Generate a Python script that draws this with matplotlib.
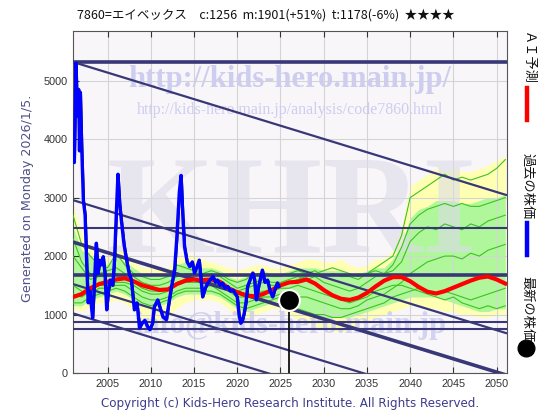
import matplotlib
matplotlib.use("Agg")
import matplotlib.pyplot as plt
from matplotlib.lines import Line2D
import numpy as np

# ---------------- data ----------------
title_text = "7860=エイベックス　c:1256  m:1901(+51%)  t:1178(-6%)  ★★★★"
x_ticks = [2005, 2010, 2015, 2020, 2025, 2030, 2035, 2040, 2045, 2050]
y_ticks = [0, 1000, 2000, 3000, 4000, 5000]

years = list(range(2001, 2052))

ai_pred = [1300, 1350, 1450, 1520, 1560, 1600, 1620, 1570, 1500, 1460, 1420, 1430, 1520, 1580, 1600, 1590,
           1600, 1560, 1450, 1380, 1330, 1310, 1350, 1420, 1500, 1550, 1560, 1600, 1530, 1420, 1330, 1270,
           1250, 1290, 1370, 1480, 1580, 1640, 1640, 1570, 1470, 1390, 1360, 1400, 1460, 1520, 1580, 1630,
           1650, 1600, 1530]

yellow_hi = [2900, 2400, 2200, 2000, 2000, 2200, 2100, 1900, 1800, 1800, 1800, 1800, 2000, 2050, 2000, 1950,
             1900, 1850, 1800, 1750, 1800, 1850, 1850, 1800, 1800, 1850, 1900, 1950, 1950, 1900, 1900, 1950,
             1850, 1800, 1850, 1950, 1950, 2100, 2500, 3200, 3300, 3400, 3500, 3450, 3500, 3450, 3450, 3500,
             3550, 3650, 3700]
green_hi = [2500, 2100, 2000, 1900, 1850, 2000, 1900, 1800, 1700, 1650, 1650, 1650, 1850, 1900, 1850, 1800,
            1800, 1750, 1650, 1600, 1650, 1700, 1750, 1700, 1700, 1750, 1800, 1800, 1800, 1750, 1750, 1750,
            1700, 1700, 1750, 1800, 1800, 1950, 2200, 2650, 2800, 2850, 2950, 2950, 2950, 2900, 2900, 2950,
            3000, 3000, 3050]
green_lo = [1150, 1150, 1250, 1300, 1350, 1400, 1350, 1250, 1150, 1100, 1150, 1200, 1300, 1350, 1350, 1350,
            1350, 1300, 1200, 1100, 1050, 1100, 1150, 1200, 1250, 1150, 1050, 1000, 950, 950, 950, 950,
            950, 1000, 1050, 1100, 1150, 1200, 1250, 1300, 1300, 1300, 1300, 1250, 1200, 1150, 1100, 1050,
            1050, 1100, 1100]
yellow_lo = [1100, 1050, 1150, 1200, 1200, 1250, 1200, 1050, 900, 850, 900, 950, 1100, 1200, 1250, 1250,
             1250, 1200, 1100, 900, 900, 1000, 1050, 1100, 1100, 1000, 900, 850, 800, 750, 720, 700,
             750, 850, 900, 950, 1000, 1050, 1100, 1150, 1150, 1100, 1100, 1050, 1050, 1000, 1000, 950,
             950, 1000, 1000]

sim_a = [2700, 2200, 2000, 1850, 1800, 2050, 1850, 1700, 1650, 1600, 1600, 1650, 1850, 1800, 1750, 1700,
         1750, 1700, 1600, 1550, 1600, 1700, 1700, 1650, 1650, 1700, 1750, 1700, 1750, 1650, 1700, 1650,
         1650, 1600, 1700, 1750, 1700, 1850, 2150, 2550, 2700, 2800, 2850, 2900, 2850, 2900, 2850, 2850,
         2900, 2950, 3000]
sim_b = [2300, 1900, 1700, 1700, 1750, 1800, 1700, 1650, 1550, 1500, 1500, 1550, 1650, 1700, 1700, 1650,
         1700, 1650, 1550, 1450, 1500, 1550, 1600, 1550, 1550, 1600, 1650, 1600, 1650, 1550, 1500, 1450,
         1400, 1450, 1550, 1650, 1700, 1750, 1900, 2250, 2400, 2500, 2450, 2550, 2500, 2450, 2550, 2500,
         2600, 2650, 2700]
sim_c = [1500, 1400, 1350, 1450, 1450, 1500, 1500, 1400, 1300, 1250, 1250, 1300, 1400, 1450, 1450, 1450,
         1500, 1400, 1300, 1200, 1200, 1250, 1300, 1300, 1350, 1350, 1300, 1300, 1250, 1200, 1150, 1100,
         1100, 1150, 1250, 1300, 1350, 1450, 1550, 1700, 1800, 1900, 1950, 2000, 2000, 1950, 2050, 2000,
         2100, 2150, 2200]
sim_d = [1200, 1200, 1300, 1350, 1400, 1450, 1400, 1300, 1200, 1150, 1200, 1250, 1350, 1400, 1400, 1400,
         1400, 1350, 1250, 1150, 1100, 1150, 1200, 1250, 1300, 1200, 1100, 1050, 1000, 1000, 950, 950,
         1000, 1050, 1100, 1150, 1200, 1300, 1350, 1400, 1450, 1400, 1350, 1400, 1350, 1300, 1250, 1300,
         1350, 1400, 1450]
sim_e = [1350, 1300, 1400, 1500, 1500, 1550, 1550, 1500, 1400, 1350, 1350, 1400, 1500, 1550, 1550, 1550,
         1550, 1500, 1400, 1300, 1300, 1350, 1400, 1400, 1450, 1450, 1500, 1450, 1400, 1350, 1300, 1250,
         1200, 1250, 1300, 1400, 1450, 1500, 1500, 1450, 1400, 1350, 1300, 1250, 1300, 1200, 1150, 1100,
         1150, 1100, 1150]
sim_f = [2000, 1800, 1600, 1650, 1650, 1700, 1650, 1550, 1450, 1400, 1400, 1450, 1550, 1600, 1600, 1550,
         1600, 1550, 1450, 1400, 1450, 1500, 1550, 1500, 1500, 1550, 1600, 1650, 1700, 1750, 1800, 1750,
         1700, 1650, 1700, 1800, 1900, 2000, 2350, 3000, 3100, 3200, 3300, 3400, 3300, 3350, 3300, 3350,
         3400, 3500, 3650]

past_years = [2001.0, 2001.15, 2001.35, 2001.5, 2001.65, 2001.75, 2001.85, 2002.0, 2002.2, 2002.4, 2002.6,
              2002.76, 2002.95, 2003.27, 2003.5, 2003.7, 2003.9, 2004.1, 2004.3, 2004.5, 2004.7, 2004.9,
              2005.1, 2005.3, 2005.6, 2005.8, 2006.0, 2006.2, 2006.4, 2006.6, 2006.9, 2007.2, 2007.5,
              2007.75, 2008.1, 2008.4, 2008.7, 2009.0, 2009.3, 2009.6, 2009.9, 2010.2, 2010.4, 2010.8,
              2011.1, 2011.4, 2011.8, 2012.1, 2012.4, 2012.75, 2013.0, 2013.3, 2013.5, 2013.7, 2013.9,
              2014.2, 2014.5, 2014.8, 2015.05, 2015.3, 2015.6, 2016.0, 2016.3, 2016.6, 2016.9, 2017.2,
              2017.5, 2017.7, 2018.0, 2018.3, 2018.6, 2018.9, 2019.2, 2019.5, 2019.8, 2020.0, 2020.2,
              2020.4, 2020.6, 2020.8, 2021.0, 2021.2, 2021.5, 2021.8, 2022.0, 2022.2, 2022.5, 2022.9,
              2023.2, 2023.5, 2023.8, 2024.1, 2024.4, 2024.65, 2024.8]
past_prices = [3900, 3600, 5300, 4400, 4850, 3800, 4800, 3900, 2950, 2700, 1800, 1200, 1400, 940, 1600,
               2220, 1700, 1930, 1850, 1990, 1700, 1080, 1400, 1590, 1500, 1930, 2700, 3400, 2900, 2600,
               2200, 1930, 1700, 1590, 1080, 1200, 770, 850, 900, 800, 740, 850, 1130, 1250, 1100, 960,
               910, 1200, 1480, 1760, 2300, 3100, 3380, 2700, 2160, 1900, 1820, 1900, 1710, 1800, 1930,
               1300, 1450, 1540, 1600, 1650, 1550, 1590, 1500, 1540, 1450, 1480, 1400, 1420, 1350, 1300,
               1000, 850, 900, 1020, 1200, 1480, 1600, 1710, 1600, 1250, 1500, 1760, 1550, 1590, 1400,
               1300, 1450, 1540, 1480]

latest_year = 2026.0
latest_price = 1256

trend_starts = [5320, 2957, 2240, 1521, 1020]
trend_slope = -45.4      # per year
trend_thick = [False, False, True, False, False]
levels = [5320, 2473, 1675, 877, 747]
level_thick = [True, False, True, False, False]

# ---------------- figure ----------------
fig = plt.figure(figsize=(5.6, 4.2), dpi=100)
ax = fig.add_axes([73/560, 1-373/420, (507-73)/560, (373-31)/420])
ax.set_facecolor("#f9f6fa")
x0, x1 = 2001, 2051.2
ax.set_xlim(x0, x1)
ax.set_ylim(0, 5850)

ax.set_xticks(x_ticks)
ax.set_yticks(y_ticks)
ax.grid(True, color="#d4d4d4", linewidth=0.8, zorder=0)
ax.tick_params(direction="in", top=True, right=False, length=4, labelsize=7.8,
               colors="#333333", pad=4)
for lab in ax.get_xticklabels() + ax.get_yticklabels():
    lab.set_family("Liberation Sans")
for s in ax.spines.values():
    s.set_color("#555555")
    s.set_linewidth(0.8)

# bands
ax.fill_between(years, yellow_lo, yellow_hi, color="#ffffb4", zorder=1, linewidth=0)
ax.fill_between(years, green_lo, green_hi, color="#b0f79c", zorder=1.5, linewidth=0)

# watermarks
wm = "#cdcdf0"
ax.text(0.5, 1-(80-31)/342, "http://kids-hero.main.jp/", transform=ax.transAxes, ha="center",
        va="center", fontsize=22, fontweight="bold", family="Liberation Serif", color=wm, zorder=2)
ax.text(0.5, 1-(110-31)/342, "http://kids-hero.main.jp/analysis/code7860.html", transform=ax.transAxes,
        ha="center", va="center", fontsize=11.5, family="Liberation Serif", color=wm, zorder=2)
ax.text(0.505, 1-(218-31)/342, "KHRI", transform=ax.transAxes, ha="center", va="center",
        fontsize=100, fontweight="bold", family="Liberation Serif", color="#dcdce8", alpha=0.6, zorder=2)
ax.text(0.5, 1-(325-31)/342, "info@kids-hero.main.jp", transform=ax.transAxes, ha="center",
        va="center", fontsize=22, fontweight="bold", family="Liberation Serif", color=wm, alpha=0.85, zorder=2)

# simulation lines
for s in [sim_a, sim_b, sim_c, sim_d, sim_e, sim_f]:
    ax.plot(years, s, color="#3cc41e", linewidth=0.8, zorder=3)

# trend lines
for st, th in zip(trend_starts, trend_thick):
    xs = np.array([x0, x1])
    ys = st + trend_slope * (xs - x0)
    ax.plot(xs, ys, color="#383878", linewidth=2.6 if th else 1.6, zorder=4, solid_capstyle="butt")
for lv, th in zip(levels, level_thick):
    ax.axhline(lv, color="#383878", linewidth=2.6 if th else 1.5, zorder=4)

# AI prediction
ax.plot(years, ai_pred, color="#ff0000", linewidth=3.0, zorder=5)

# past prices
ax.plot(np.array(past_years) + 0.12, past_prices, color="#111111", linewidth=0.9, zorder=5.5)
ax.plot(past_years, past_prices, color="#0000ff", linewidth=2.4, zorder=6)

# latest
ax.plot([latest_year, latest_year], [0, latest_price], color="#111111", linewidth=1.3, zorder=6.5)
ax.plot([latest_year], [latest_price], marker="o", markersize=15, color="black",
        markeredgecolor="white", markeredgewidth=1.5, zorder=7)

# ---------------- texts ----------------
fig.text(266/560, 1-15/420, title_text, ha="center", va="center", fontsize=9,
         family=["Noto Sans CJK JP", "DejaVu Sans"], color="#111111")
fig.text(28/560, 1-198/420, "Generated on Monday 2026/1/5.", rotation=90, ha="center", va="center",
         fontsize=9.2, family="DejaVu Sans", color="#50508c")
fig.text(290/560, 1-404/420, "Copyright (c) Kids-Hero Research Institute. All Rights Reserved.",
         ha="center", va="center", fontsize=8.6, family="DejaVu Sans", color="#3c3c8c")

# right legend
jp = ["Noto Sans CJK JP", "DejaVu Sans"]
fig.text(527/560, 1-58/420, "ＡＩ予測", rotation=270, ha="center", va="center", fontsize=9.5,
         family=jp, color="#111111")
fig.add_artist(Line2D([527/560, 527/560], [1-88/420, 1-120/420], color="#ff0000", linewidth=3.2))
fig.text(527/560, 1-186/420, "過去の株価", rotation=270, ha="center", va="center", fontsize=9.5,
         family=jp, color="#111111")
fig.add_artist(Line2D([527/560, 527/560], [1-223/420, 1-255/420], color="#0000ff", linewidth=3.2))
fig.text(527/560, 1-309/420, "最新の株価", rotation=270, ha="center", va="center", fontsize=9.5,
         family=jp, color="#111111")
fig.add_artist(Line2D([526/560], [1-348/420], marker="o", markersize=12, color="black", linestyle="none"))

fig.savefig("out.png", dpi=100)
